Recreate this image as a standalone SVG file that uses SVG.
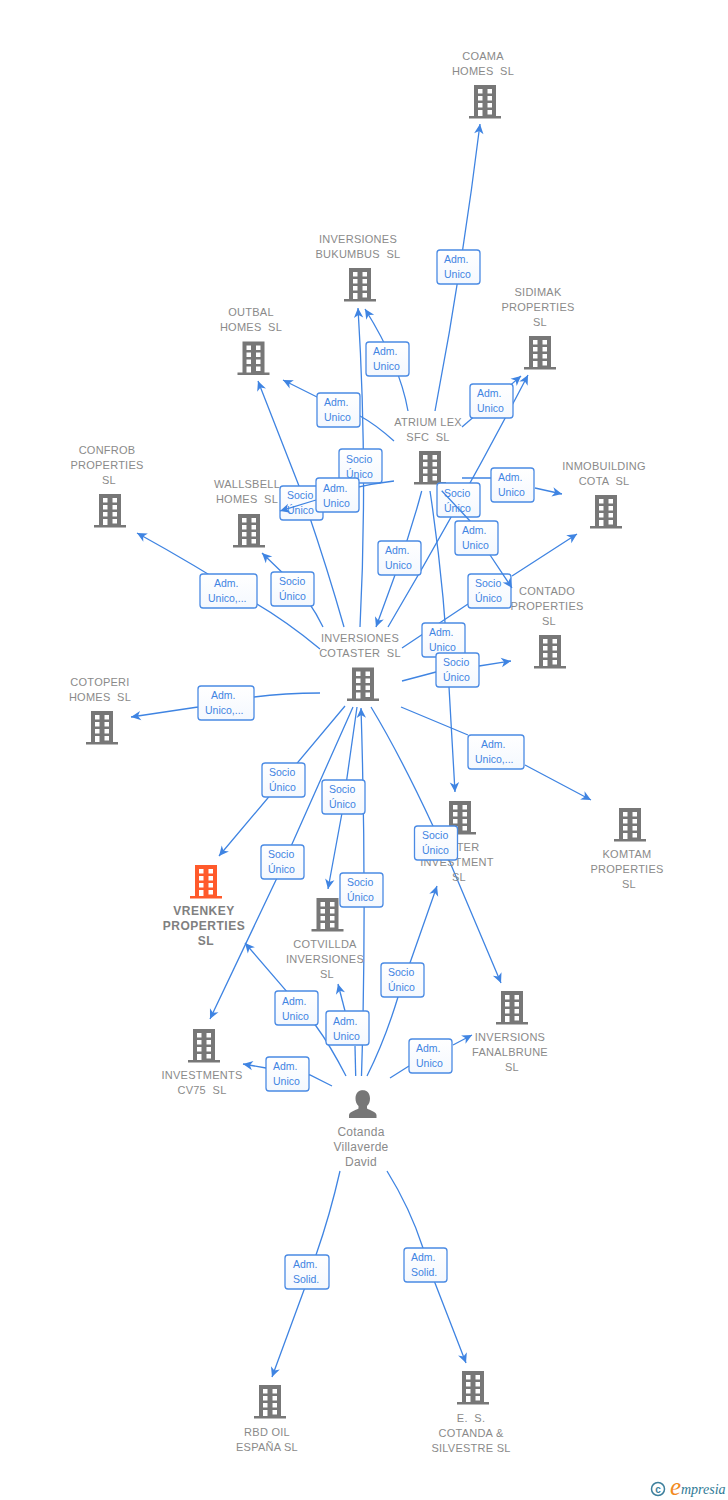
<svg xmlns="http://www.w3.org/2000/svg" width="728" height="1500" viewBox="0 0 728 1500">
<style>
text{font-family:"Liberation Sans",Arial,sans-serif}
.n{font-size:11px;fill:#8a8a8a;text-anchor:middle;letter-spacing:.25px;white-space:pre}
.b{font-weight:bold;font-size:12px;fill:#808080;letter-spacing:.5px}
.p{font-size:12px}
.c path{fill:none;stroke:#3f84e2;stroke-width:1.3;marker-end:url(#a)}
.c path.s{marker-end:none}
.l rect{fill:url(#g);stroke:#4a8ae4;stroke-width:1.3}
.l text{font-size:10.5px;fill:#3f84e2}
</style>
<defs>
<linearGradient id="g" x1="0" y1="0" x2="0" y2="1"><stop offset="0" stop-color="#fff"/><stop offset="1" stop-color="#f4f8fe"/></linearGradient>
<marker id="a" markerUnits="userSpaceOnUse" markerWidth="14" markerHeight="14" refX="11" refY="7" orient="auto"><path d="M11 7L1.200 2.300L4 7L1.200 11.700Z" fill="#3f84e2"/></marker>
<path id="h" fill-rule="evenodd" d="M-11 0H11V31H16V33.500H-16V31H-11ZM-7 4V8.500H-2.500V4ZM2.500 4V8.500H7V4ZM-7 11V15.500H-2.500V11ZM2.500 11V15.500H7V11ZM-7 18V22.500H-2.500V18ZM2.500 18V22.500H7V18ZM-7 25V31H-2.500V25ZM2.500 25V29.500H7V25Z"/>
</defs>
<g id="connectors" class="c">
<path d="M435 411Q462 270 480 124"/>
<path d="M408 411Q400 365 365 309"/>
<path d="M394 441Q375 424 360 416L317 397L283 380"/>
<path d="M462 427L521 376"/>
<path d="M388 627Q460 505 528 375"/>
<path d="M360 627Q368 470 358 308"/>
<path d="M344 627Q325 560 299 486L258 381"/>
<path d="M323 627Q310 600 290 580L262 553"/>
<path d="M320 649Q285 620 250 600Q195 565 137 533"/>
<path d="M320 693Q285 693 254 697L198 707L131 717"/>
<path d="M345 706L283 780L219 856"/>
<path d="M353 707Q325 770 276 880L210 1019"/>
<path d="M357 707L342 813L328 889"/>
<path d="M361.500 1076Q367 900 361 708"/>
<path class="s" d="M355.700 1076L355 1046"/>
<path d="M345 1011L338 984"/>
<path d="M346 1076Q330 1045 316 1026L286 990.700L245 943"/>
<path d="M332 1086Q320 1080 310 1075L266 1068L243 1064"/>
<path d="M367 1076Q385 1040 398 997L437 886"/>
<path d="M390 1078L409 1066M453 1045L472 1035"/>
<path d="M371 707Q400 755 433 826L449 860L501 983"/>
<path d="M430 491Q445 590 449 687L455 792"/>
<path d="M421.700 491Q410 535 395 575L376 627"/>
<path d="M402 681L436 672M479 666L511 661"/>
<path d="M401 707L468 735M525 765L591 800"/>
<path d="M402 648L468 604M512 576L577 534"/>
<path d="M462 478H491M535 488L562 494"/>
<path d="M340 1171Q330 1215 316 1255L304 1290L272 1377"/>
<path d="M387 1171Q410 1208 423 1248L435 1283L466 1363"/>
</g>
<g id="n-coama"><use href="#h" x="485" y="85" fill="#777"/><text class="n"><tspan x="483" y="60">COAMA</tspan><tspan x="483" y="75">HOMES  SL</tspan></text></g>
<g id="n-bukumbus"><use href="#h" x="360" y="268" fill="#777"/><text class="n"><tspan x="358" y="243">INVERSIONES</tspan><tspan x="358" y="258">BUKUMBUS  SL</tspan></text></g>
<g id="n-outbal"><use href="#h" x="253.500" y="341.500" fill="#777"/><text class="n"><tspan x="251" y="316">OUTBAL</tspan><tspan x="251" y="331">HOMES  SL</tspan></text></g>
<g id="n-sidimak"><use href="#h" x="540" y="336" fill="#777"/><text class="n"><tspan x="538" y="296">SIDIMAK</tspan><tspan x="538" y="311">PROPERTIES</tspan><tspan x="540" y="326">SL</tspan></text></g>
<g id="n-atrium"><use href="#h" x="430" y="451" fill="#777"/><text class="n"><tspan x="428" y="426">ATRIUM LEX</tspan><tspan x="428" y="441">SFC  SL</tspan></text></g>
<g id="n-inmobuilding"><use href="#h" x="606" y="495" fill="#777"/><text class="n"><tspan x="604" y="470">INMOBUILDING</tspan><tspan x="604" y="485">COTA  SL</tspan></text></g>
<g id="n-confrob"><use href="#h" x="110" y="494" fill="#777"/><text class="n"><tspan x="107" y="454">CONFROB</tspan><tspan x="107" y="469">PROPERTIES</tspan><tspan x="109" y="484">SL</tspan></text></g>
<g id="n-wallsbell"><use href="#h" x="249" y="514" fill="#777"/><text class="n"><tspan x="247" y="488">WALLSBELL</tspan><tspan x="247" y="503">HOMES  SL</tspan></text></g>
<g id="n-contado"><use href="#h" x="550" y="635" fill="#777"/><text class="n"><tspan x="547" y="595">CONTADO</tspan><tspan x="547" y="610">PROPERTIES</tspan><tspan x="549" y="625">SL</tspan></text></g>
<g id="n-cotaster"><use href="#h" x="363" y="667.500" fill="#777"/><text class="n"><tspan x="360" y="642">INVERSIONES</tspan><tspan x="360" y="657">COTASTER  SL</tspan></text></g>
<g id="n-cotoperi"><use href="#h" x="102" y="711" fill="#777"/><text class="n"><tspan x="100" y="686">COTOPERI</tspan><tspan x="100" y="701">HOMES  SL</tspan></text></g>
<g id="n-komtam"><use href="#h" x="630" y="808" fill="#777"/><text class="n"><tspan x="627" y="858">KOMTAM</tspan><tspan x="627" y="873">PROPERTIES</tspan><tspan x="629" y="888">SL</tspan></text></g>
<g id="n-investment"><use href="#h" x="460" y="801" fill="#777"/><text class="n"><tspan x="468" y="851">TER</tspan><tspan x="457" y="866">INVESTMENT</tspan><tspan x="459" y="881">SL</tspan></text></g>
<g id="n-vrenkey"><use href="#h" x="206" y="865" fill="#ff5a2b"/><text class="n b"><tspan x="204" y="914.500">VRENKEY</tspan><tspan x="204" y="929.500">PROPERTIES</tspan><tspan x="206" y="944.500">SL</tspan></text></g>
<g id="n-cotvillda"><use href="#h" x="327.500" y="898" fill="#777"/><text class="n"><tspan x="325" y="948">COTVILLDA</tspan><tspan x="325" y="963">INVERSIONES</tspan><tspan x="327" y="978">SL</tspan></text></g>
<g id="n-fanalbrune"><use href="#h" x="512" y="991" fill="#777"/><text class="n"><tspan x="510" y="1041">INVERSIONS</tspan><tspan x="510" y="1056">FANALBRUNE</tspan><tspan x="512" y="1071">SL</tspan></text></g>
<g id="n-investments"><use href="#h" x="204" y="1029" fill="#777"/><text class="n"><tspan x="202" y="1079">INVESTMENTS</tspan><tspan x="202" y="1094">CV75  SL</tspan></text></g>
<g id="n-rbd"><use href="#h" x="270" y="1385" fill="#777"/><text class="n"><tspan x="267" y="1436">RBD OIL</tspan><tspan x="267" y="1451">ESPAÑA SL</tspan></text></g>
<g id="n-cotanda-silvestre"><use href="#h" x="473" y="1371" fill="#777"/><text class="n"><tspan x="471" y="1422">E.  S.</tspan><tspan x="471" y="1437">COTANDA &amp;</tspan><tspan x="471" y="1452">SILVESTRE SL</tspan></text></g>
<g id="n-david"><path d="M363 1090c-5 0-7.500 4-7.500 8.500c0 3 1 5.500 3 7.500v2.500c-3 2-9 3-9.500 6.500v3h27.500v-3c-.5-3.500-6.500-4.500-9.500-6.500v-2.500c2-2 3-4.500 3-7.500c0-4.500-2.500-8.500-7.500-8.500Z" fill="#777"/><text class="n p"><tspan x="361" y="1136">Cotanda</tspan><tspan x="361" y="1151">Villaverde</tspan><tspan x="361" y="1166">David</tspan></text></g>
<g id="labels" class="l">
<g><rect x="437" y="250" width="43" height="34" rx="3"/><text x="444" y="263">Adm.</text><text x="444" y="278">Unico</text></g>
<g><rect x="366" y="342" width="43" height="34" rx="3"/><text x="373" y="355">Adm.</text><text x="373" y="370">Unico</text></g>
<g><rect x="317" y="393" width="43" height="34" rx="3"/><text x="324" y="406">Adm.</text><text x="324" y="421">Unico</text></g>
<g><rect x="470" y="384" width="43" height="34" rx="3"/><text x="477" y="397">Adm.</text><text x="477" y="412">Unico</text></g>
<g><rect x="339" y="449" width="43" height="34" rx="3"/><text x="346" y="463">Socio</text><text x="346" y="478">Único</text></g>
<g><rect x="280" y="486" width="43" height="34" rx="3"/><text x="287" y="499">Socio</text><text x="287" y="514">Único</text></g>
<g><rect x="437" y="483" width="43" height="34" rx="3"/><text x="444" y="497">Socio</text><text x="444" y="512">Único</text></g>
<g><rect x="491" y="468" width="43" height="34" rx="3"/><text x="498" y="481">Adm.</text><text x="498" y="496">Unico</text></g>
<g><rect x="378" y="541" width="43" height="34" rx="3"/><text x="385" y="554">Adm.</text><text x="385" y="569">Unico</text></g>
<g><rect x="468" y="574" width="43" height="34" rx="3"/><text x="475" y="587">Socio</text><text x="475" y="602">Único</text></g>
<g><rect x="422" y="623" width="43" height="34" rx="3"/><text x="429" y="636">Adm.</text><text x="429" y="651">Unico</text></g>
<g><rect x="436" y="653" width="43" height="34" rx="3"/><text x="443" y="666">Socio</text><text x="443" y="681">Único</text></g>
<g><rect x="271" y="572" width="43" height="34" rx="3"/><text x="279" y="585">Socio</text><text x="279" y="600">Único</text></g>
<g><rect x="200" y="574" width="57" height="34" rx="3"/><text x="214" y="587">Adm.</text><text x="208" y="602">Unico,...</text></g>
<g><rect x="198" y="686" width="56" height="34" rx="3"/><text x="211" y="699">Adm.</text><text x="205" y="714">Unico,...</text></g>
<g><rect x="468" y="735" width="56" height="34" rx="3"/><text x="481" y="748">Adm.</text><text x="475" y="763">Unico,...</text></g>
<g><rect x="262" y="763" width="43" height="34" rx="3"/><text x="269" y="776">Socio</text><text x="269" y="791">Único</text></g>
<g><rect x="322" y="780" width="43" height="34" rx="3"/><text x="329" y="793">Socio</text><text x="329" y="808">Único</text></g>
<g><rect x="261" y="845" width="43" height="34" rx="3"/><text x="268" y="858">Socio</text><text x="268" y="873">Único</text></g>
<g><rect x="340" y="873" width="43" height="34" rx="3"/><text x="347" y="886">Socio</text><text x="347" y="901">Único</text></g>
<g><rect x="414.500" y="826" width="43" height="34" rx="3"/><text x="422" y="839">Socio</text><text x="422" y="854">Único</text></g>
<g><rect x="381" y="963" width="43" height="34" rx="3"/><text x="388" y="976">Socio</text><text x="388" y="991">Único</text></g>
<g><rect x="275" y="991" width="43" height="34" rx="3"/><text x="282" y="1005">Adm.</text><text x="282" y="1020">Unico</text></g>
<g><rect x="326" y="1011" width="43" height="34" rx="3"/><text x="333" y="1025">Adm.</text><text x="333" y="1040">Unico</text></g>
<g><rect x="266" y="1057" width="43" height="34" rx="3"/><text x="273" y="1070">Adm.</text><text x="273" y="1085">Unico</text></g>
<g><rect x="409" y="1039" width="43" height="34" rx="3"/><text x="416" y="1052">Adm.</text><text x="416" y="1067">Unico</text></g>
<g><rect x="285" y="1255" width="44" height="34" rx="3"/><text x="293" y="1268">Adm.</text><text x="293" y="1283">Solid.</text></g>
<g><rect x="404" y="1248" width="43" height="34" rx="3"/><text x="411" y="1261">Adm.</text><text x="411" y="1276">Solid.</text></g>
</g>
<g id="connectors-over" class="c">
<path d="M394 481Q350 486 316 500L280 511"/>
<path d="M441.700 490.700L470 521L490.700 556L512 588"/>
</g>
<g id="labels-over" class="l">
<g><rect x="316" y="478" width="43" height="34" rx="3"/><text x="323" y="492">Adm.</text><text x="323" y="507">Unico</text></g>
<g><rect x="455" y="521" width="43" height="34" rx="3"/><text x="462" y="534">Adm.</text><text x="462" y="549">Unico</text></g>
</g>
<g id="logo"><circle cx="658" cy="1489" r="6.500" fill="none" stroke="#3d7f9c" stroke-width="1.500"/><text x="658" y="1492.500" font-size="10" font-weight="bold" text-anchor="middle" fill="#3d7f9c">c</text><text x="670" y="1495" font-size="25" font-style="italic" fill="#f28a1e" style="font-family:'Liberation Serif',serif">e</text><text x="681" y="1494" font-size="14" font-style="italic" fill="#2f7a96" style="font-family:'Liberation Serif',serif">mpresia</text></g>
</svg>
